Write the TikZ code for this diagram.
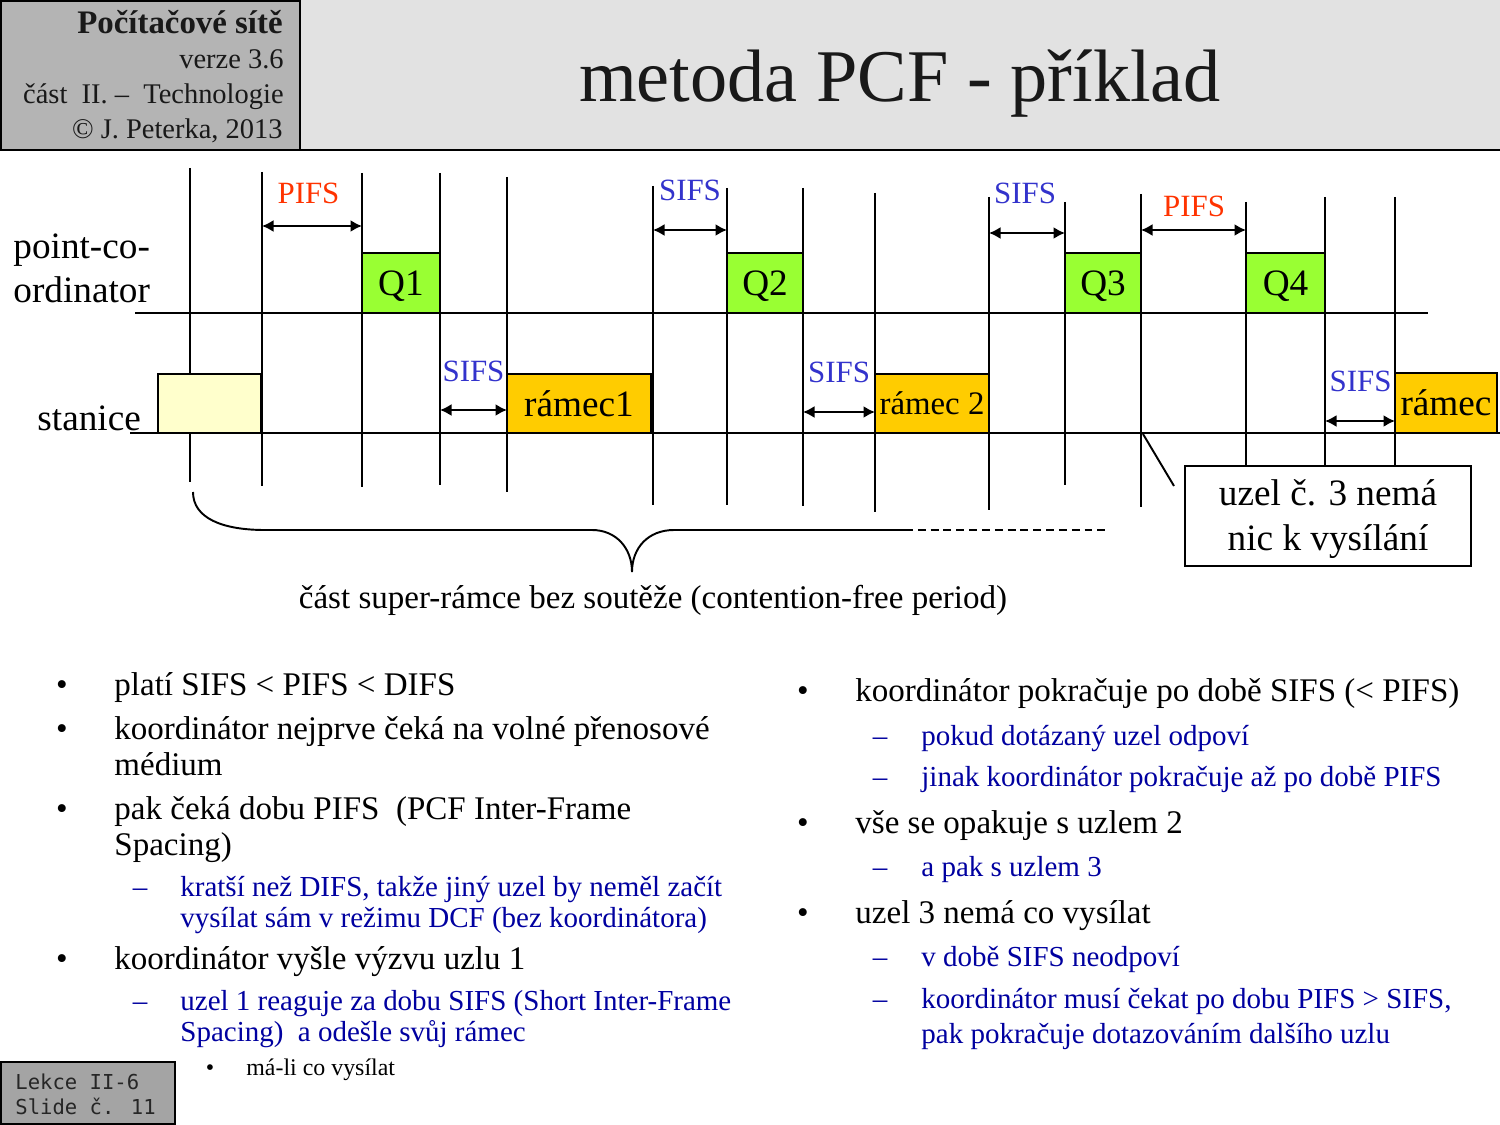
\documentclass[tikz,border=0pt]{standalone}
\usepackage{fontspec}
\setmainfont{Liberation Serif}
\newfontfamily\monofnt{DejaVu Sans Mono}
\usetikzlibrary{arrows.meta}
\definecolor{qgreen}{HTML}{99FF33}
\definecolor{fyellow}{HTML}{FFCC00}
\definecolor{lyellow}{HTML}{FFFFCC}
\definecolor{pifsred}{HTML}{FF3300}
\definecolor{sifsblue}{HTML}{3333CC}
\definecolor{subblue}{RGB}{0,0,160}
\definecolor{hdrgray}{HTML}{B4B4B4}
\definecolor{titlegray}{HTML}{E2E2E2}
\definecolor{ftgray}{HTML}{A4A4A4}
\newcommand\fTitle{\fontsize{42.3pt}{50pt}\selectfont}
\newcommand\fHdrB{\fontsize{18.7pt}{22pt}\selectfont\bfseries}
\newcommand\fHdr{\fontsize{16.2pt}{19pt}\selectfont}
\newcommand\fMain{\fontsize{18.8pt}{22pt}\selectfont}
\newcommand\fSub{\fontsize{16.5pt}{19pt}\selectfont}
\newcommand\fSmall{\fontsize{13.6pt}{16pt}\selectfont}
\newcommand\fLab{\fontsize{21.2pt}{25pt}\selectfont}
\newcommand\fLabS{\fontsize{18.7pt}{22pt}\selectfont}
\newcommand\fIfs{\fontsize{17.6pt}{21pt}\selectfont}
\newcommand\fFoot{\monofnt\fontsize{11.7pt}{14pt}\selectfont}
\begin{document}
\begin{tikzpicture}[x=0.02cm,y=-0.02cm,line width=1.6pt,
  tline/.style={line width=1.6pt},
  qbox/.style={draw, line width=1.6pt, fill=qgreen, minimum height=1.2cm, inner sep=0pt, text depth=0pt, font=\fLab},
  fbox/.style={draw, line width=1.6pt, fill=fyellow, minimum height=1.18cm, inner sep=0pt, text depth=0pt, font=\fLab},
  gaparrow/.style={{Latex[length=2.3mm,width=2.4mm]}-{Latex[length=2.3mm,width=2.4mm]}, line width=1.1pt},
  ifsP/.style={text=pifsred, font=\fIfs, inner sep=0pt, text depth=0pt},
  ifsS/.style={text=sifsblue, font=\fIfs, inner sep=0pt, text depth=0pt},
  mtxt/.style={anchor=base west, inner sep=0pt, font=\fMain},
  stxt/.style={anchor=base west, inner sep=0pt, font=\fSub, text=subblue},
  mbul/.style={anchor=base, inner sep=0pt, font=\fMain},
  sdash/.style={anchor=base, inner sep=0pt, font=\fSub, text=subblue},
  hdr/.style={anchor=base east, inner sep=0pt, text=black!90},
  lab/.style={anchor=base west, inner sep=0pt, font=\fLab},
]
\useasboundingbox (0,0) rectangle (1500,1125);
\fill[white] (0,0) rectangle (1500,1125);
% header
\fill[titlegray] (300,0) rectangle (1500,150);
\filldraw[fill=hdrgray, draw=black, line width=1.4pt] (0.7,0.7) rectangle (300,150);
\draw[line width=1.6pt] (0,150) -- (1500,150);
\node[hdr, font=\fHdrB] (h1) at (284,34) {Počítačové sítě};
\node[hdr, font=\fHdr] (h2) at (285,69) {verze 3.6};
\node[hdr, font=\fHdr] (h3) at (285,104) {část\ \ II. –\ \ Technologie};
\node[hdr, font=\fHdr] (h4) at (284,139) {© J. Peterka, 2013};
\node[anchor=base, inner sep=0pt, font=\fTitle, text=black!90] (title) at (900,102) {metoda PCF - příklad};

% axis labels
\node[lab] (pc1) at (12,258) {point-co-};
\node[lab] (pc2) at (12,302) {ordinator};
\node[lab] (st) at (36,430) {stanice};

% horizontal time lines
\draw[tline] (135,313) -- (1428,313);
\draw[tline] (130,433) -- (1500,433);

% vertical lines
\draw[tline] (190,168) -- (190,482);
\draw[tline] (262,172) -- (262,486);
\draw[tline] (362,173) -- (362,487);
\draw[tline] (440,173) -- (440,485);
\draw[tline] (507,177) -- (507,492);
\draw[tline] (653,186) -- (653,505);
\draw[tline] (727,188) -- (727,505);
\draw[tline] (803,188) -- (803,506);
\draw[tline] (875,193) -- (875,512);
\draw[tline] (989,197) -- (989,510);
\draw[tline] (1065,202) -- (1065,485);
\draw[tline] (1141,194) -- (1141,507);
\draw[tline] (1246,202) -- (1246,466);
\draw[tline] (1325,197) -- (1325,466);
\draw[tline] (1395,197) -- (1395,466);

% frames
\node[draw, line width=1.6pt, fill=lyellow, minimum width=2.06cm, minimum height=1.18cm, inner sep=0pt] (idle) at (209.5,403.5) {};
\node[qbox, minimum width=1.56cm] (q1) at (401,283) {Q1};
\node[fbox, minimum width=2.88cm] (r1) at (579,403.5) {rámec1};
\node[qbox, minimum width=1.52cm] (q2) at (765,283) {Q2};
\node[fbox, minimum width=2.28cm, font=\fLabS] (r2) at (932,403.5) {rámec 2};
\node[qbox, minimum width=1.52cm] (q3) at (1103,283) {Q3};
\node[qbox, minimum width=1.58cm] (q4) at (1285.5,283) {Q4};
\node[fbox, minimum width=2.04cm, minimum height=1.2cm] (r4) at (1446,403) {rámec};

% gap arrows
\coordinate (a1l) at (262,226); \coordinate (a1r) at (362,226);
\coordinate (a2l) at (440,410); \coordinate (a2r) at (507,410);
\coordinate (a3l) at (653,230); \coordinate (a3r) at (727,230);
\coordinate (a4l) at (803,412); \coordinate (a4r) at (875,412);
\coordinate (a5l) at (989,233); \coordinate (a5r) at (1065,233);
\coordinate (a6l) at (1141,230); \coordinate (a6r) at (1246,230);
\coordinate (a7l) at (1325,421); \coordinate (a7r) at (1395,421);
\draw[gaparrow] (a1l) -- (a1r);
\draw[gaparrow] (a2l) -- (a2r);
\draw[gaparrow] (a3l) -- (a3r);
\draw[gaparrow] (a4l) -- (a4r);
\draw[gaparrow] (a5l) -- (a5r);
\draw[gaparrow] (a6l) -- (a6r);
\draw[gaparrow] (a7l) -- (a7r);
\node[ifsP] (p1) at (308.5,193.5) {PIFS};
\node[ifsS] (s1) at (473.5,371) {SIFS};
\node[ifsS] (s2) at (690,190) {SIFS};
\node[ifsS] (s3) at (839,372.5) {SIFS};
\node[ifsS] (s4) at (1025,193.5) {SIFS};
\node[ifsP] (p2) at (1194,206.5) {PIFS};
\node[ifsS] (s5) at (1360.5,381.5) {SIFS};

% callout
\node[draw, fill=white, line width=1.6pt, minimum width=5.72cm, minimum height=2cm, inner sep=0pt] (cb) at (1328,516) {};
\node[anchor=base, inner sep=0pt, font=\fLab] (cb1) at (1328,505) {uzel č. 3 nemá};
\node[anchor=base, inner sep=0pt, font=\fLab] (cb2) at (1328,550) {nic k vysílání};
\coordinate (slA) at (1143,434);
\coordinate (slB) at (1174,486);
\draw[line width=1.1pt] (slA) -- (slB);

% brace
\coordinate (brA) at (193,492);
\coordinate (brL) at (265,530);
\coordinate (brM1) at (592,530);
\coordinate (brTip) at (632,572);
\coordinate (brM2) at (674,530);
\coordinate (brR) at (905,530);
\coordinate (brD) at (1110,530);
\draw[line width=1.1pt] (brA) .. controls (193,518) and (222,530) .. (brL) -- (brM1)
  .. controls (616,530) and (632,548) .. (brTip)
  .. controls (632,548) and (648,530) .. (brM2) -- (brR);
\draw[line width=1.1pt, dash pattern=on 4.5pt off 2.8pt] (brR) -- (brD);
\node[anchor=base, inner sep=0pt, font=\fMain] (cfp) at (653,608) {část super-rámce bez soutěže (contention-free period)};

% left column
\node[mbul] (lb1) at (62,695) {•};
\node[mtxt] (lt1) at (113,695) {platí SIFS < PIFS < DIFS};
\node[mbul] (lb2) at (62,739) {•};
\node[mtxt] (lt2) at (113,739) {koordinátor nejprve čeká na volné přenosové};
\node[mtxt] (lt2b) at (113,775) {médium};
\node[mbul] (lb3) at (62,819) {•};
\node[mtxt] (lt3) at (113,819) {pak čeká dobu PIFS\ \ (PCF Inter-Frame};
\node[mtxt] (lt3b) at (113,855) {Spacing)};
\node[sdash] (ld1) at (140,896) {–};
\node[stxt] (ls1) at (179,896) {kratší než DIFS, takže jiný uzel by neměl začít};
\node[stxt] (ls1b) at (179,927) {vysílat sám v režimu DCF (bez koordinátora)};
\node[mbul] (lb4) at (62,969) {•};
\node[mtxt] (lt4) at (113,969) {koordinátor vyšle výzvu uzlu 1};
\node[sdash] (ld2) at (140,1010) {–};
\node[stxt] (ls2) at (179,1010) {uzel 1 reaguje za dobu SIFS (Short Inter-Frame};
\node[stxt] (ls2b) at (179,1041) {Spacing)\ \ a odešle svůj rámec};
\node[anchor=base, inner sep=0pt, font=\fSmall] (lsb) at (210,1075) {•};
\node[anchor=base west, inner sep=0pt, font=\fSmall] (lss) at (245,1075) {má-li co vysílat};

% right column
\node[mbul] (rb1) at (803,701) {•};
\node[mtxt] (rt1) at (854,701) {koordinátor pokračuje po době SIFS (< PIFS)};
\node[sdash] (rd1) at (880,745) {–};
\node[stxt] (rs1) at (920,745) {pokud dotázaný uzel odpoví};
\node[sdash] (rd2) at (880,786) {–};
\node[stxt] (rs2) at (920,786) {jinak koordinátor pokračuje až po době PIFS};
\node[mbul] (rb2) at (803,833) {•};
\node[mtxt] (rt2) at (854,833) {vše se opakuje s uzlem 2};
\node[sdash] (rd3) at (880,876) {–};
\node[stxt] (rs3) at (920,876) {a pak s uzlem 3};
\node[mbul] (rb3) at (803,923) {•};
\node[mtxt] (rt3) at (854,923) {uzel 3 nemá co vysílat};
\node[sdash] (rd4) at (880,966) {–};
\node[stxt] (rs4) at (920,966) {v době SIFS neodpoví};
\node[sdash] (rd5) at (880,1008) {–};
\node[stxt] (rs5) at (920,1008) {koordinátor musí čekat po dobu PIFS > SIFS,};
\node[stxt] (rs5b) at (920,1043) {pak pokračuje dotazováním dalšího uzlu};

% footer
\filldraw[fill=ftgray, draw=black, line width=1.4pt] (0.7,1062) rectangle (175,1124.3);
\node[anchor=base west, inner sep=0pt, font=\fFoot, text=black!85] (f1) at (14,1089) {Lekce II-6};
\node[anchor=base west, inner sep=0pt, font=\fFoot, text=black!85] (f2) at (14,1114) {Slide č. 11};
\end{tikzpicture}
\end{document}
